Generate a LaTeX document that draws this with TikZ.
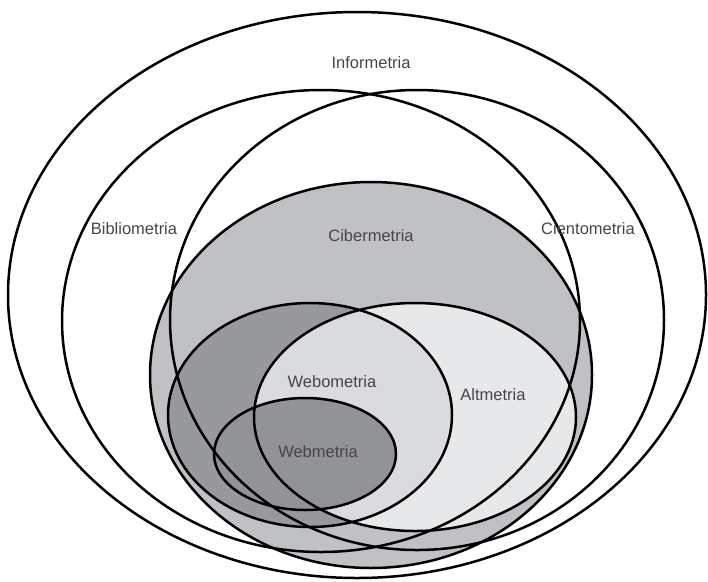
\documentclass[tikz,border=0pt]{standalone}
\usepackage{fontspec}
\setmainfont{Liberation Sans}
\definecolor{ciberfill}{RGB}{192,193,196}
\definecolor{webofill}{RGB}{152,153,156}
\definecolor{altfill}{RGB}{231,232,234}
\definecolor{bothfill}{RGB}{218,219,222}
\definecolor{webmfill}{RGB}{146,147,150}
\definecolor{lbltext}{RGB}{70,70,72}

\begin{document}
\begin{tikzpicture}[x=1pt, y=-1pt, line width=2.5pt,
    lbl/.style = {font=\fontsize{16.5}{19}\selectfont, text=lbltext}]
    \useasboundingbox (0,0) rectangle (708,581);
    % fills first
    \fill[ciberfill] (371,375) ellipse [x radius=221, y radius=193];
    \fill[webofill] (310,415) ellipse [x radius=142, y radius=112];
    \fill[altfill] (415,417) ellipse [x radius=161, y radius=114];
    \begin{scope}
        \clip (310,415) ellipse [x radius=142, y radius=112];
        \fill[bothfill] (415,417) ellipse [x radius=161, y radius=114];
    \end{scope}
    \fill[webmfill] (305,454) ellipse [x radius=91, y radius=56];
    % outlines
    \draw (357,295) ellipse [x radius=349, y radius=283];
    \draw (321,321) ellipse [x radius=259, y radius=231];
    \draw (417,320) ellipse [x radius=247, y radius=230];
    \draw (371,375) ellipse [x radius=221, y radius=193];
    \draw (310,415) ellipse [x radius=142, y radius=112];
    \draw (415,417) ellipse [x radius=161, y radius=114];
    \draw (305,454) ellipse [x radius=91, y radius=56];
    % labels
    \node[lbl] (info) at (371,63) {Informetria};
    \node[lbl] (biblio) at (134,229) {Bibliometria};
    \node[lbl] (ciber) at (371,236) {Cibermetria};
    \node[lbl] (ciento) at (588,229) {Cientometria};
    \node[lbl] (webo) at (332,382) {Webometria};
    \node[lbl] (alt) at (493,395) {Altmetria};
    \node[lbl] (webm) at (318,452) {Webmetria};
\end{tikzpicture}
\end{document}
